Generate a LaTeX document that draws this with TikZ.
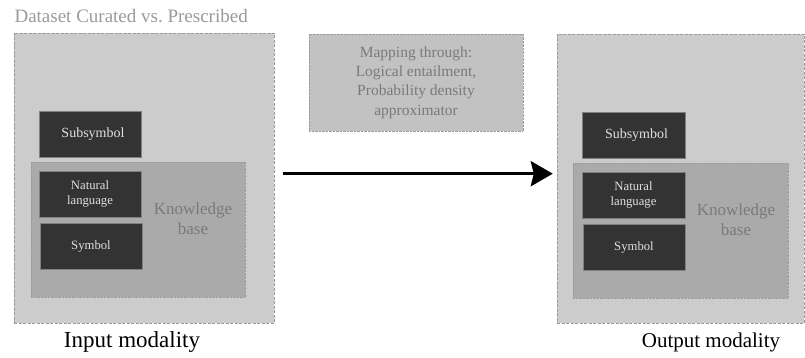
\documentclass[tikz,border=0pt]{standalone}
\usepackage{fontspec}
\setmainfont{Liberation Serif}
\usepackage{xcolor}
\usetikzlibrary{arrows.meta}
\definecolor{outerfill}{HTML}{CCCCCC}
\definecolor{kbfill}{HTML}{AAAAAA}
\definecolor{mapfill}{HTML}{C2C2C2}
\definecolor{darkbox}{HTML}{333333}
\definecolor{lightline}{HTML}{9A9A9A}
\definecolor{greytext}{HTML}{7A7A7A}
\tikzset{
    modality/.style={draw=lightline, fill=outerfill, dash pattern=on 3pt off 1.5pt,
        minimum width=260pt, minimum height=290pt, inner sep=0pt},
    kbase/.style={draw=lightline, fill=kbfill, densely dotted,
        minimum width=214pt, minimum height=135pt, inner sep=0pt},
    repbox/.style={draw=gray, fill=darkbox, text=white!88!black, align=center,
        minimum width=102pt, minimum height=46pt, inner sep=0pt},
}

\begin{document}
\begin{tikzpicture}[x=1pt,y=-1pt]
		\useasboundingbox (0,0) rectangle (805,358);
		\node[anchor=west, text=lightline, font=\fontsize{19}{22}\selectfont] (title) at (11,16) {Dataset Curated vs.\ Prescribed};
		% input side
		\node[modality] (inL) at (144,178) {};
		\node[kbase] (kbL) at (138,229.5) {};
		\node[text=greytext, align=center, font=\fontsize{17}{20}\selectfont] (kbtextL) at (193,219) {Knowledge\\base};
		\node[repbox, font=\fontsize{14}{16}\selectfont] (subL) at (90,134) {\hspace{6pt}Subsymbol};
		\node[repbox, font=\fontsize{12.7}{15}\selectfont] (natL) at (90,194) {Natural\\language};
		\node[repbox, font=\fontsize{12.7}{15}\selectfont] (symL) at (91,246) {Symbol};
		\node[font=\fontsize{23}{27}\selectfont] (inlabel) at (132,342) {Input modality};
		% output side
		\node[modality, minimum width=247pt, minimum height=289pt] (outR) at (680.5,178.5) {};
		\node[kbase, minimum width=215pt] (kbR) at (680.5,230.5) {};
		\node[text=greytext, align=center, font=\fontsize{17}{20}\selectfont] (kbtextR) at (736,220) {Knowledge\\base};
		\node[repbox, minimum width=103pt, font=\fontsize{14}{16}\selectfont] (subR) at (633.5,135) {\hspace{6pt}Subsymbol};
		\node[repbox, minimum width=103pt, font=\fontsize{12.7}{15}\selectfont] (natR) at (633.5,195) {Natural\\language};
		\node[repbox, font=\fontsize{12.7}{15}\selectfont] (symR) at (634,247) {Symbol};
		\node[font=\fontsize{21}{25}\selectfont] (outlabel) at (711,342) {Output modality};
		% mapping
		\node[draw=lightline, fill=mapfill, densely dotted, text=greytext, align=center,
		    minimum width=214pt, minimum height=97pt, inner sep=0pt,
		    font=\fontsize{15.5}{19.3}\selectfont] (map) at (416,82.5) {Mapping through:\\Logical entailment,\\Probability density\\approximator};
		\coordinate (arrstart) at (283,173.7);
		\draw[-{Stealth[length=22pt,width=25pt,inset=3pt]}, line width=3.5pt] (arrstart) -- ([xshift=-4pt]outR.west |- arrstart);
	\end{tikzpicture}
\end{document}
